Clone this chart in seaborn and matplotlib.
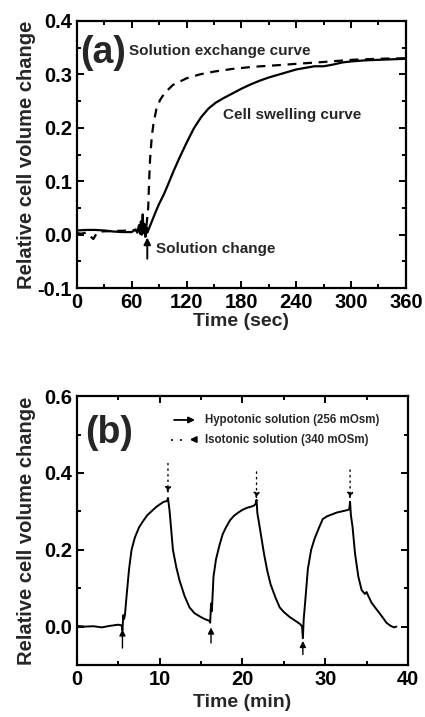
import matplotlib
matplotlib.use("Agg")
import matplotlib.pyplot as plt
import seaborn as sns
import pandas as pd
from matplotlib.ticker import MultipleLocator

sns.set_style("ticks")
plt.rcParams['font.family'] = ['Liberation Sans', 'DejaVu Sans']
plt.rcParams['font.weight'] = 'bold'
plt.rcParams['axes.labelweight'] = 'bold'

# ---- panel (a): seconds ----
t_swell = [0, 10, 20, 30, 40, 50, 60, 64, 66, 68, 69, 70, 71, 72, 73, 74, 75, 76, 77, 78,
           82, 86, 90, 95, 100, 106, 112, 120, 128, 136, 144, 152, 160, 170, 180, 190,
           200, 210, 220, 230, 240, 250, 260, 270, 280, 290, 300, 315, 330, 345, 360]
v_swell = [0.008, 0.009, 0.009, 0.008, 0.006, 0.005, 0.005, 0.010, 0.004, 0.018, 0.002,
           0.025, 0.000, 0.038, 0.003, 0.020, -0.004, 0.015, 0.004, 0.008,
           0.025, 0.042, 0.058, 0.075, 0.095, 0.120, 0.143, 0.172, 0.199, 0.220, 0.236,
           0.247, 0.255, 0.264, 0.273, 0.281, 0.288, 0.294, 0.299, 0.304, 0.309, 0.312,
           0.315, 0.315, 0.318, 0.322, 0.324, 0.326, 0.327, 0.328, 0.329]

t_exch = [0, 5, 10, 14, 18, 22, 25, 40, 60, 72, 76, 78, 79, 80, 82, 84, 87, 91, 96, 105,
          120, 135, 150, 170, 193, 220, 244, 270, 300, 330, 360]
v_exch = [0.003, 0.002, 0.004, -0.002, -0.008, 0.004, 0.006, 0.007, 0.008, 0.010, 0.015,
          0.050, 0.100, 0.140, 0.185, 0.210, 0.235, 0.252, 0.265, 0.280, 0.2925, 0.300,
          0.305, 0.310, 0.314, 0.317, 0.320, 0.323, 0.327, 0.329, 0.330]

# ---- panel (b): minutes ----
t_b = [0, 1, 2, 3, 4, 5, 5.4, 5.5, 5.6, 5.7, 5.8, 6.0, 6.3, 6.6, 7.0, 7.5, 8.0, 8.5, 9.0,
       9.5, 10.0, 10.5, 10.9, 11.0, 11.1, 11.2, 11.4, 11.6, 12.0, 12.4, 13.0, 13.6, 14.2,
       14.8, 15.4, 16.0, 16.1, 16.2, 16.3, 16.5, 16.8, 17.2, 17.6, 18.0, 18.5, 19.0, 19.5,
       20.0, 20.5, 21.0, 21.4, 21.6, 21.7, 21.8, 22.0, 22.3, 22.6, 23.0, 23.4, 24.0, 24.5,
       25.0, 25.7, 26.4, 27.0, 27.2, 27.3, 27.4, 27.6, 27.9, 28.3, 28.7, 29.2, 29.7, 30.2,
       30.8, 31.4, 32.0, 32.6, 32.9, 33.0, 33.1, 33.3, 33.6, 34.0, 34.4, 34.8, 35.0, 35.2,
       35.6, 36.2, 36.8, 37.4, 37.9, 38.3, 38.6]
v_b = [0.002, 0.000, 0.001, -0.002, 0.002, 0.005, 0.003, -0.010, 0.030, 0.020, 0.030,
       0.080, 0.150, 0.200, 0.232, 0.258, 0.275, 0.290, 0.300, 0.310, 0.318, 0.325, 0.327,
       0.335, 0.318, 0.300, 0.250, 0.200, 0.155, 0.120, 0.080, 0.050, 0.035, 0.027, 0.020,
       0.015, 0.010, 0.060, 0.040, 0.130, 0.175, 0.210, 0.240, 0.258, 0.277, 0.289, 0.297,
       0.304, 0.309, 0.312, 0.315, 0.320, 0.330, 0.295, 0.270, 0.230, 0.190, 0.145, 0.110,
       0.075, 0.050, 0.038, 0.025, 0.015, 0.006, 0.000, -0.030, 0.020, 0.070, 0.150, 0.200,
       0.228, 0.255, 0.280, 0.287, 0.292, 0.297, 0.300, 0.303, 0.305, 0.325, 0.290, 0.260,
       0.190, 0.130, 0.095, 0.085, 0.090, 0.080, 0.062, 0.045, 0.028, 0.010, 0.002, -0.002,
       0.000]

# switching times (min) and arrow spans
hypo_t = [5.5, 16.2, 27.3]
hypo_from = [-0.063, -0.050, -0.080]
hypo_to = [0.000, 0.005, -0.030]
iso_t = [11.0, 21.7, 33.0]
iso_from = [0.432, 0.410, 0.415]
iso_to = [0.340, 0.325, 0.325]

df_a1 = pd.DataFrame({"t": t_swell, "v": v_swell})
df_a2 = pd.DataFrame({"t": t_exch, "v": v_exch})
df_b = pd.DataFrame({"t": t_b, "v": v_b})

fig = plt.figure(figsize=(4.25, 7.17), dpi=100)
ax1 = fig.add_axes([0.181, 0.598, 0.774, 0.373])
ax2 = fig.add_axes([0.181, 0.0725, 0.779, 0.375])

sns.lineplot(data=df_a1, x="t", y="v", ax=ax1, color="black", lw=1.6, estimator=None, sort=False)
sns.lineplot(data=df_a2, x="t", y="v", ax=ax1, color="black", lw=1.6, estimator=None,
             sort=False, linestyle=(0, (4, 3)))
sns.lineplot(data=df_b, x="t", y="v", ax=ax2, color="black", lw=1.4, estimator=None, sort=False)

# panel (a) annotations
ax1.annotate("", xy=(77, 0.0), xytext=(77, -0.05),
             arrowprops=dict(arrowstyle="-|>", color="black", lw=1.4, mutation_scale=10))
ax1.text(86, -0.027, "Solution change", fontsize=11, va="center")
ax1.text(57, 0.343, "Solution exchange curve", fontsize=11, va="center")
ax1.text(160, 0.224, "Cell swelling curve", fontsize=11, va="center")
ax1.text(4, 0.34, "(a)", fontsize=27, va="center")

# panel (b) arrows
for t, y0, y1 in zip(hypo_t, hypo_from, hypo_to):
    ax2.annotate("", xy=(t, y1), xytext=(t, y0),
                 arrowprops=dict(arrowstyle="-|>", color="black", lw=1.0, mutation_scale=9))
for t, y0, y1 in zip(iso_t, iso_from, iso_to):
    ax2.annotate("", xy=(t, y1), xytext=(t, y0),
                 arrowprops=dict(arrowstyle="-|>", color="black", lw=1.0, linestyle=(0, (1, 3)),
                                 mutation_scale=9))

# legend drawn by hand
ax2.annotate("", xy=(14.6, 0.538), xytext=(11.4, 0.538),
             arrowprops=dict(arrowstyle="-|>", color="black", lw=1.3, mutation_scale=9))
ax2.text(15.5, 0.538, "Hypotonic solution (256 mOsm)", fontsize=8.3, va="center")
ax2.plot([11.4, 12.8], [0.487, 0.487], color="black", lw=1.3, linestyle=(0, (1, 4)))
ax2.annotate("", xy=(13.3, 0.487), xytext=(14.6, 0.487),
             arrowprops=dict(arrowstyle="-|>", color="black", lw=1.3, mutation_scale=9))
ax2.text(15.5, 0.487, "Isotonic solution (340 mOSm)", fontsize=8.3, va="center")
ax2.text(1.0, 0.505, "(b)", fontsize=27, va="center")

ax1.set_xlim(0, 360)
ax1.set_ylim(-0.1, 0.4)
ax1.xaxis.set_major_locator(MultipleLocator(60))
ax1.xaxis.set_minor_locator(MultipleLocator(30))
ax1.yaxis.set_minor_locator(MultipleLocator(0.05))
ax1.set_yticks([-0.1, 0.0, 0.1, 0.2, 0.3, 0.4])
ax1.set_yticklabels(["-0.1", "0.0", "0.1", "0.2", "0.3", "0.4"])
ax1.set_xlabel("Time (sec)", fontsize=14, labelpad=1)
ax1.set_ylabel("Relative cell volume change", fontsize=14.5, labelpad=1)

ax2.set_xlim(0, 40)
ax2.set_ylim(-0.1, 0.6)
ax2.xaxis.set_major_locator(MultipleLocator(10))
ax2.xaxis.set_minor_locator(MultipleLocator(5))
ax2.yaxis.set_minor_locator(MultipleLocator(0.1))
ax2.set_yticks([0.0, 0.2, 0.4, 0.6])
ax2.set_yticklabels(["0.0", "0.2", "0.4", "0.6"])
ax2.set_xlabel("Time (min)", fontsize=14, labelpad=4)
ax2.set_ylabel("Relative cell volume change", fontsize=14.5, labelpad=6)

for ax in (ax1, ax2):
    for s in ax.spines.values():
        s.set_visible(True)
        s.set_linewidth(1.6)
        s.set_color("black")
    ax.tick_params(which="both", direction="in", top=True, right=True, width=1.4,
                   labelsize=14.5, colors="black")
    ax.tick_params(which="major", length=5)
    ax.tick_params(which="minor", length=3)
    for lab in ax.get_xticklabels() + ax.get_yticklabels():
        lab.set_fontweight("bold")

fig.savefig("out.png", dpi=100)
